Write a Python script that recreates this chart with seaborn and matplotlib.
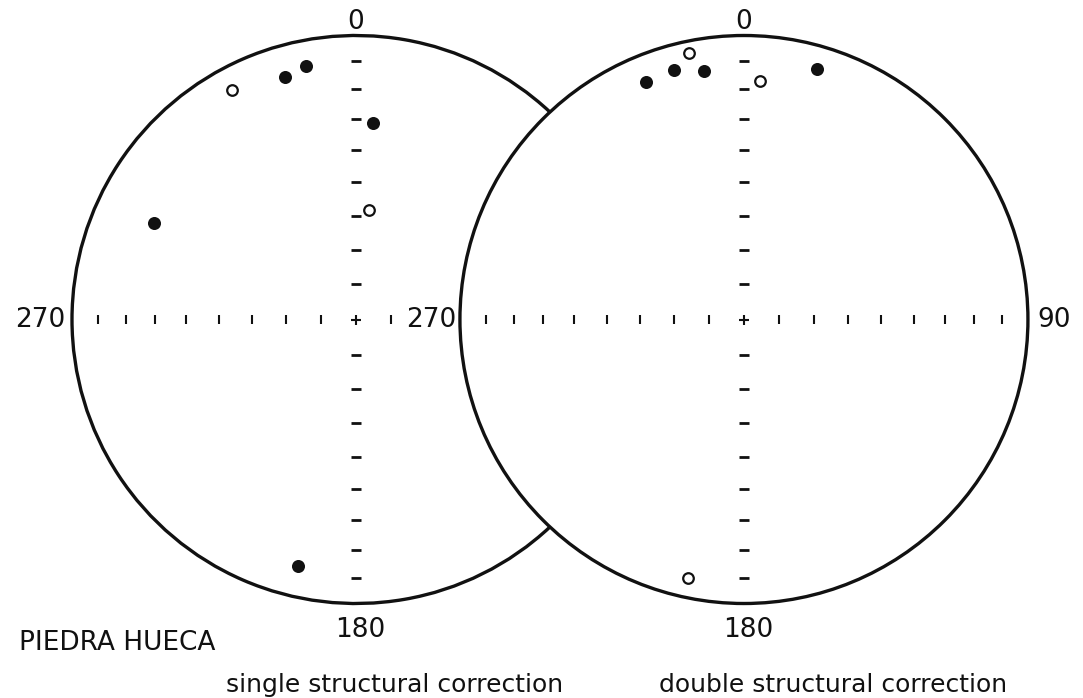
import numpy as np
import pandas as pd
import matplotlib
matplotlib.use("Agg")
import matplotlib.pyplot as plt
from matplotlib.patches import Arc, Circle
import seaborn as sns

# Site-mean palaeomagnetic directions, Piedra Hueca
# declination in degrees; inclination in degrees (negative = upper hemisphere)
single_dec = [331.6, 343.7, 348.8, 4.9, 6.8, 295.5, 193.2]
single_inc = [-9.0, 12.0, 9.9, 31.2, -58.1, 22.2, 11.8]
double_dec = [348.3, 337.6, 344.3, 350.9, 3.8, 16.2, 192.2]
double_inc = [-4.7, 10.5, 9.6, 12.4, -17.0, 9.0, -7.6]

net_titles = ["single structural correction", "double structural correction"]
site_name = "PIEDRA HUECA"
north_label, east_label, south_label, west_label = "0", "90", "180", "270"
tick_incs = [10, 20, 30, 40, 50, 60, 70, 80]

sns.set_theme(style="white")
plt.rcParams["font.family"] = ["DejaVu Sans"]


def equal_area(dec, inc):
    """Lambert equal-area (Schmidt) projection on a unit primitive."""
    d = np.radians(np.asarray(dec, dtype=float))
    i = np.radians(np.abs(np.asarray(inc, dtype=float)))
    r = np.sqrt(2.0) * np.sin((np.pi / 2 - i) / 2)
    return r * np.sin(d), r * np.cos(d)


# two nets side by side, the second overlapping the first
net_x = [0.0, 1.366]
east_ticks = [1, len(tick_incs)]

fig = plt.figure(figsize=(10.83, 6.98), dpi=100)
ax = fig.add_axes([0, 0, 1, 1])
ax.set_xlim(-1.2535, -1.2535 + 1083 / 284)
ax.set_ylim(1.125 - 698 / 284, 1.125)
ax.set_aspect("equal")
ax.axis("off")

ink = "#111111"
rim_lw = 2.4

# primitive circles: the left one is hidden where the right one covers it
half = net_x[1] / 2
cut = np.degrees(np.arctan2(np.sqrt(1 - half ** 2), half))
ax.add_patch(Arc((net_x[0], 0), 2, 2, theta1=cut, theta2=360 - cut,
                 color=ink, lw=rim_lw))
ax.add_patch(Circle((net_x[1], 0), 1, fill=False, ec=ink, lw=rim_lw))

# graticule ticks every 10 degrees of inclination along the N-S and E-W axes
tick_r = equal_area(0, tick_incs)[1]
for k, cx in enumerate(net_x):
    for r in tick_r:
        for s in (1, -1):
            ax.plot([cx - 0.019, cx + 0.019], [s * r, s * r], color=ink,
                    lw=2.0, solid_capstyle="butt")
        ax.plot([cx - r, cx - r], [-0.0158, 0.0158], color=ink, lw=1.5,
                solid_capstyle="butt")
    for r in tick_r[::-1][:east_ticks[k]]:
        ax.plot([cx + r, cx + r], [-0.0158, 0.0158], color=ink, lw=1.5,
                solid_capstyle="butt")
    ax.plot([cx], [0], marker="+", ms=7.5, mew=1.5, color=ink)

# directions
frames = []
for k, (dec, inc) in enumerate([(single_dec, single_inc),
                                (double_dec, double_inc)]):
    x, y = equal_area(dec, inc)
    frames.append(pd.DataFrame({
        "x": x + net_x[k], "y": y,
        "hemisphere": np.where(np.asarray(inc) >= 0, "lower", "upper"),
    }))
df = pd.concat(frames, ignore_index=True)

sns.scatterplot(data=df[df.hemisphere == "lower"], x="x", y="y", ax=ax,
                color=ink, edgecolor=ink, s=88, linewidth=0, zorder=5,
                legend=False)
sns.scatterplot(data=df[df.hemisphere == "upper"], x="x", y="y", ax=ax,
                color="white", edgecolor=ink, s=58, linewidth=1.6, zorder=5,
                legend=False)

# rim labels
fs = 19
for k, cx in enumerate(net_x):
    ax.text(cx, 1.023, north_label, ha="center", va="baseline", fontsize=fs,
            color=ink)
    ax.text(cx + 0.015, -1.118, south_label, ha="center", va="baseline",
            fontsize=fs, color=ink)
ax.text(net_x[0] - 1.0246, -0.0264, west_label, ha="right", va="baseline",
        fontsize=fs, color=ink)
ax.text(net_x[1] - 1.014, -0.0264, west_label, ha="right", va="baseline",
        fontsize=fs, color=ink)
ax.text(net_x[1] + 1.032, -0.0264, east_label, ha="left", va="baseline",
        fontsize=fs, color=ink)

ax.text(-1.1866, -1.1637, site_name, ha="left", va="baseline", fontsize=fs,
        color=ink)
ax.text(net_x[0] + 0.137, -1.3116, net_titles[0], ha="center",
        va="baseline", fontsize=18, color=ink)
ax.text(net_x[1] + 0.314, -1.3116, net_titles[1], ha="center",
        va="baseline", fontsize=18, color=ink)

fig.savefig("out.png", dpi=100, facecolor="white")
